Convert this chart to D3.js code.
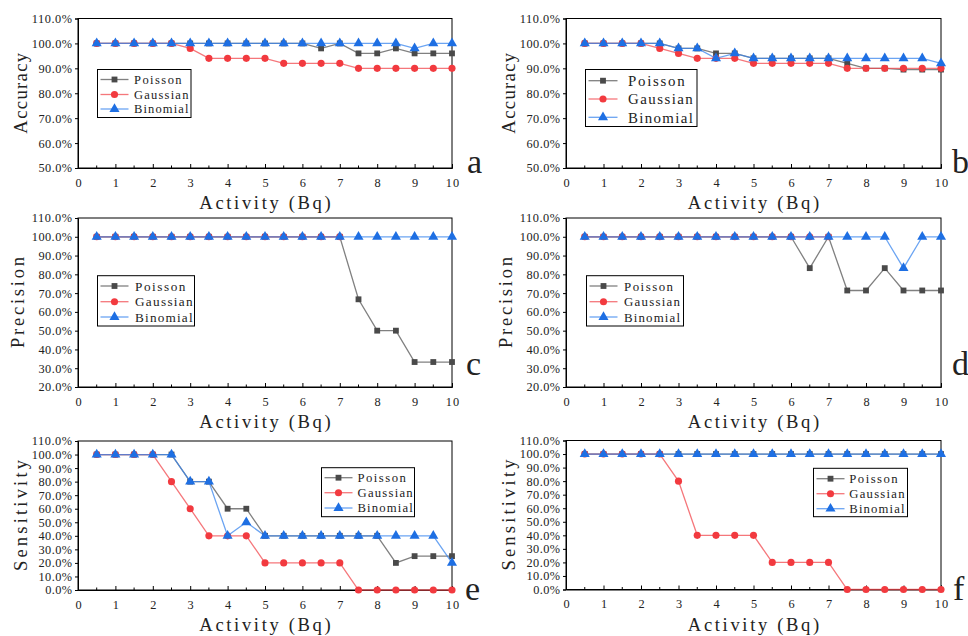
<!DOCTYPE html>
<html>
<head>
<meta charset="utf-8">
<script src="https://cdn.jsdelivr.net/npm/d3@7"></script>
<style>
  html, body { margin: 0; padding: 0; background: #fff; }
  svg { display: block; }
  text { font-family: "Liberation Serif", "DejaVu Serif", serif; fill: #222; }
</style>
</head>
<body>
<svg id="chart" width="968" height="636"></svg>
<script>
// ---------- data ----------
const activity = [0.5, 1, 1.5, 2, 2.5, 3, 3.5, 4, 4.5, 5, 5.5, 6, 6.5, 7, 7.5, 8, 8.5, 9, 9.5, 10];
const seriesNames = ["Poisson", "Gaussian", "Binomial"];

// panel a: Accuracy
const accA_Poisson  = [100,100,100,100,100,100,100,100,100,100,100,100, 98,100, 96, 96, 98, 96, 96, 96];
const accA_Gaussian = [100,100,100,100,100, 98, 94, 94, 94, 94, 92, 92, 92, 92, 90, 90, 90, 90, 90, 90];
const accA_Binomial = [100,100,100,100,100,100,100,100,100,100,100,100,100,100,100,100,100, 98,100,100];
// panel b: Accuracy
const accB_Poisson  = [100,100,100,100,100, 98, 98, 96, 96, 94, 94, 94, 94, 94, 92, 90, 90, 89.5, 89.5, 89.5];
const accB_Gaussian = [100,100,100,100, 98, 96, 94, 94, 94, 92, 92, 92, 92, 92, 90, 90, 90, 90, 90, 90];
const accB_Binomial = [100,100,100,100,100, 98, 98, 94, 96, 94, 94, 94, 94, 94, 94, 94, 94, 94, 94, 92];
// panel c: Precision
const preC_Poisson  = [100,100,100,100,100,100,100,100,100,100,100,100,100,100, 66.7, 50, 50, 33.3, 33.3, 33.3];
const preC_Gaussian = [100,100,100,100,100,100,100,100,100,100,100,100,100,100, null, null, null, null, null, null];
const preC_Binomial = [100,100,100,100,100,100,100,100,100,100,100,100,100,100,100,100,100,100,100,100];
// panel d: Precision
const preD_Poisson  = [100,100,100,100,100,100,100,100,100,100,100,100, 83.3,100, 71.4, 71.4, 83.3, 71.4, 71.4, 71.4];
const preD_Gaussian = [100,100,100,100,100,100,100,100,100,100,100,100,100,100, null, null, null, null, null, null];
const preD_Binomial = [100,100,100,100,100,100,100,100,100,100,100,100,100,100,100,100,100, 83.3,100,100];
// panel e: Sensitivity
const senE_Poisson  = [100,100,100,100,100, 80, 80, 60, 60, 40, 40, 40, 40, 40, 40, 40, 20, 25, 25, 25];
const senE_Gaussian = [100,100,100,100, 80, 60, 40, 40, 40, 20, 20, 20, 20, 20,  0,  0,  0,  0,  0,  0];
const senE_Binomial = [100,100,100,100,100, 80, 80, 40, 50, 40, 40, 40, 40, 40, 40, 40, 40, 40, 40, 20];
// panel f: Sensitivity
const senF_Poisson  = [100,100,100,100,100,100,100,100,100,100,100,100,100,100,100,100,100,100,100,100];
const senF_Gaussian = [100,100,100,100,100, 80, 40, 40, 40, 40, 20, 20, 20, 20,  0,  0,  0,  0,  0,  0];
const senF_Binomial = [100,100,100,100,100,100,100,100,100,100,100,100,100,100,100,100,100,100,100,100];

const xTicks = [0,1,2,3,4,5,6,7,8,9,10];
const yTicksAcc = [50,60,70,80,90,100,110];
const yTicksPre = [20,30,40,50,60,70,80,90,100,110];
const yTicksSen = [0,10,20,30,40,50,60,70,80,90,100,110];
const xTitle = "Activity (Bq)";

// ---------- styles ----------
const markerColor = { Poisson: "#4a4a4a", Gaussian: "#f23a3f", Binomial: "#1e6fe3" };
const lineColor   = { Poisson: "#555555", Gaussian: "#f24a4f", Binomial: "#3a86ee" };
const shapes = { Poisson: d3.symbolSquare, Gaussian: d3.symbolCircle, Binomial: d3.symbolTriangle };
const shapeSize = { Poisson: 34, Gaussian: 40, Binomial: 44 };

// half-width (monospaced) text look: serif glyphs spread to a fixed advance per character
function mono(sel, size) {
  sel.style("font-family", "Liberation Serif").style("font-size", (size * 0.92) + "px")
    .attr("lengthAdjust", "spacing")
    .attr("textLength", function() { return this.textContent.length * size / 2; });
  return sel;
}

const svg = d3.select("#chart");

const panels = [
  { L: 78,  R: 452, T: 18.5, B: 168, dom: [50,110], ticks: yTicksAcc, title: "Accuracy", titleX: 20, letter: "a", letterX: 467, letterY: 173,
    data: [accA_Poisson, accA_Gaussian, accA_Binomial],
    leg: { x: 97.5, y: 69.5, w: 93.5, h: 48, rows: [79.5, 94.5, 109], textX: 134, fs: 13.6, lineLen: 28 } },
  { L: 566, R: 941, T: 18.5, B: 168, dom: [50,110], ticks: yTicksAcc, title: "Accuracy", titleX: 508, letterX: 952, letterY: 173, letter: "b",
    data: [accB_Poisson, accB_Gaussian, accB_Binomial],
    leg: { x: 585.5, y: 69.5, w: 111.5, h: 57, rows: [80.7, 99, 117.3], textX: 628, fs: 16.2, lineLen: 29 } },
  { L: 78,  R: 452, T: 218, B: 387, dom: [20,110], ticks: yTicksPre, title: "Precision", titleX: 17, letter: "c", letterX: 466, letterY: 375,
    data: [preC_Poisson, preC_Gaussian, preC_Binomial],
    leg: { x: 97.5, y: 275.7, w: 97, h: 50.3, rows: [286, 301.7, 317], textX: 135, fs: 14.4, lineLen: 28 } },
  { L: 566, R: 941, T: 218, B: 387, dom: [20,110], ticks: yTicksPre, title: "Precision", titleX: 505, letter: "d", letterX: 952, letterY: 375,
    data: [preD_Poisson, preD_Gaussian, preD_Binomial],
    leg: { x: 586.5, y: 275.7, w: 97, h: 50.3, rows: [286, 301.7, 317], textX: 624, fs: 14, lineLen: 28 } },
  { L: 78,  R: 452, T: 441, B: 590, dom: [0,110], ticks: yTicksSen, title: "Sensitivity", titleX: 20, letter: "e", letterX: 465, letterY: 600,
    data: [senE_Poisson, senE_Gaussian, senE_Binomial],
    leg: { x: 321.5, y: 467.7, w: 93, h: 49, rows: [477.7, 492.7, 508], textX: 357.5, fs: 13.8, lineLen: 28 } },
  { L: 566, R: 941, T: 440.5, B: 589.5, dom: [0,110], ticks: yTicksSen, title: "Sensitivity", titleX: 508, letter: "f", letterX: 953, letterY: 600,
    data: [senF_Poisson, senF_Gaussian, senF_Binomial],
    leg: { x: 813.5, y: 468.3, w: 94, h: 48.4, rows: [478.7, 493.7, 508.7], textX: 849.3, fs: 13.8, lineLen: 28 } }
];

panels.forEach(p => {
  const g = svg.append("g");
  const x = d3.scaleLinear().domain([0, 10]).range([p.L, p.R]);
  const y = d3.scaleLinear().domain(p.dom).range([p.B, p.T]);

  // frame
  g.append("rect").attr("x", p.L).attr("y", p.T).attr("width", p.R - p.L).attr("height", p.B - p.T)
    .attr("fill", "none").attr("stroke", "#000").attr("stroke-width", 1);

  // x axis: inward major + minor ticks
  const xAxis = d3.axisBottom(x).tickValues(xTicks).tickFormat(d3.format("d")).tickSize(-4).tickPadding(10);
  const gx = g.append("g").attr("transform", `translate(0,${p.B})`).call(xAxis);
  gx.select(".domain").attr("stroke", "#000");
  gx.selectAll(".tick line").attr("stroke", "#000");
  mono(gx.selectAll("text"), 13.4).attr("fill", "#222");
  const minor = d3.range(0.5, 10, 1);
  g.append("g").selectAll("line").data(minor).join("line")
    .attr("x1", d => x(d)).attr("x2", d => x(d)).attr("y1", p.B).attr("y2", p.B - 2.5)
    .attr("stroke", "#000");

  // y axis: outward ticks
  const yAxis = d3.axisLeft(y).tickValues(p.ticks).tickFormat(d => d.toFixed(1) + "%").tickSize(3).tickPadding(3);
  const gy = g.append("g").attr("transform", `translate(${p.L},0)`).call(yAxis);
  gy.select(".domain").attr("stroke", "#000");
  gy.selectAll(".tick line").attr("stroke", "#000");
  mono(gy.selectAll("text"), 13.4).attr("fill", "#222");

  // axis titles
  mono(g.append("text").attr("x", (p.L + p.R) / 2).attr("y", p.B + 41).attr("text-anchor", "middle")
    .text(xTitle), 20.2);
  mono(g.append("text").attr("transform", `translate(${p.titleX},${(p.T + p.B) / 2}) rotate(-90)`)
    .attr("text-anchor", "middle").attr("dy", "0.35em")
    .text(p.title), 20.2);

  // panel letter
  g.append("text").attr("x", p.letterX).attr("y", p.letterY)
    .style("font-family", "Liberation Serif").style("font-size", "34px").attr("fill", "#111").text(p.letter);

  // series
  seriesNames.forEach((name, i) => {
    const vals = p.data[i];
    const pts = activity.map((a, k) => ({ a, v: vals[k] }));
    const line = d3.line().defined(d => d.v !== null).x(d => x(d.a)).y(d => y(d.v));
    g.append("path").datum(pts).attr("d", line).attr("fill", "none")
      .attr("stroke", lineColor[name]).attr("stroke-opacity", 0.75).attr("stroke-width", 1.3);
    g.append("g").selectAll("path").data(pts.filter(d => d.v !== null)).join("path")
      .attr("d", d3.symbol().type(shapes[name]).size(shapeSize[name]))
      .attr("transform", d => `translate(${x(d.a)},${y(d.v)})`)
      .attr("fill", markerColor[name]);
  });

  // legend
  const L = p.leg;
  const lg = g.append("g");
  lg.append("rect").attr("x", L.x).attr("y", L.y).attr("width", L.w).attr("height", L.h)
    .attr("fill", "#fff").attr("stroke", "#000").attr("stroke-width", 1);
  seriesNames.forEach((name, i) => {
    const yy = L.rows[i];
    const x0 = L.x + 3, x1 = x0 + L.lineLen;
    lg.append("line").attr("x1", x0).attr("x2", x1).attr("y1", yy).attr("y2", yy)
      .attr("stroke", lineColor[name]).attr("stroke-opacity", 0.75).attr("stroke-width", 1.3);
    lg.append("path").attr("d", d3.symbol().type(shapes[name]).size(shapeSize[name]))
      .attr("transform", `translate(${(x0 + x1) / 2},${yy})`).attr("fill", markerColor[name]);
    mono(lg.append("text").attr("x", L.textX).attr("y", yy).attr("dy", "0.35em").text(name), L.fs);
  });
});
</script>
</body>
</html>
